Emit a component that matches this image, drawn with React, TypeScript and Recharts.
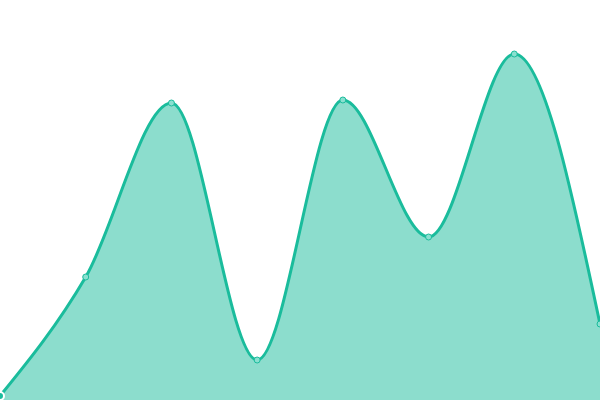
import { Area, AreaChart, XAxis, YAxis } from "recharts";

const labels = ["A", "B", "C", "D", "E", "F", "G", "H"];
const values = [4, 123, 297, 40, 300, 163, 346, 76];

const data = labels.map((name, i) => ({ name, value: values[i] }));

const App = () => {
  return (
    <div style={{ position: "absolute", top: 0, left: 0, width: 600, height: 400 }}>
      <AreaChart width={600} height={400} data={data} margin={{ top: 0, right: 0, left: 0, bottom: 0 }}>
        <XAxis dataKey="name" hide />
        <YAxis hide domain={[0, 400]} />
        <Area
          type="monotone"
          dataKey="value"
          stroke="#1abc9c"
          strokeWidth={3}
          fill="#1abc9c"
          fillOpacity={0.5}
          dot={{ r: 3, stroke: "#1abc9c", strokeWidth: 1, fill: "#8ae0d0", fillOpacity: 1 }}
          isAnimationActive={false}
        />
      </AreaChart>
    </div>
  );
};

export default App;
